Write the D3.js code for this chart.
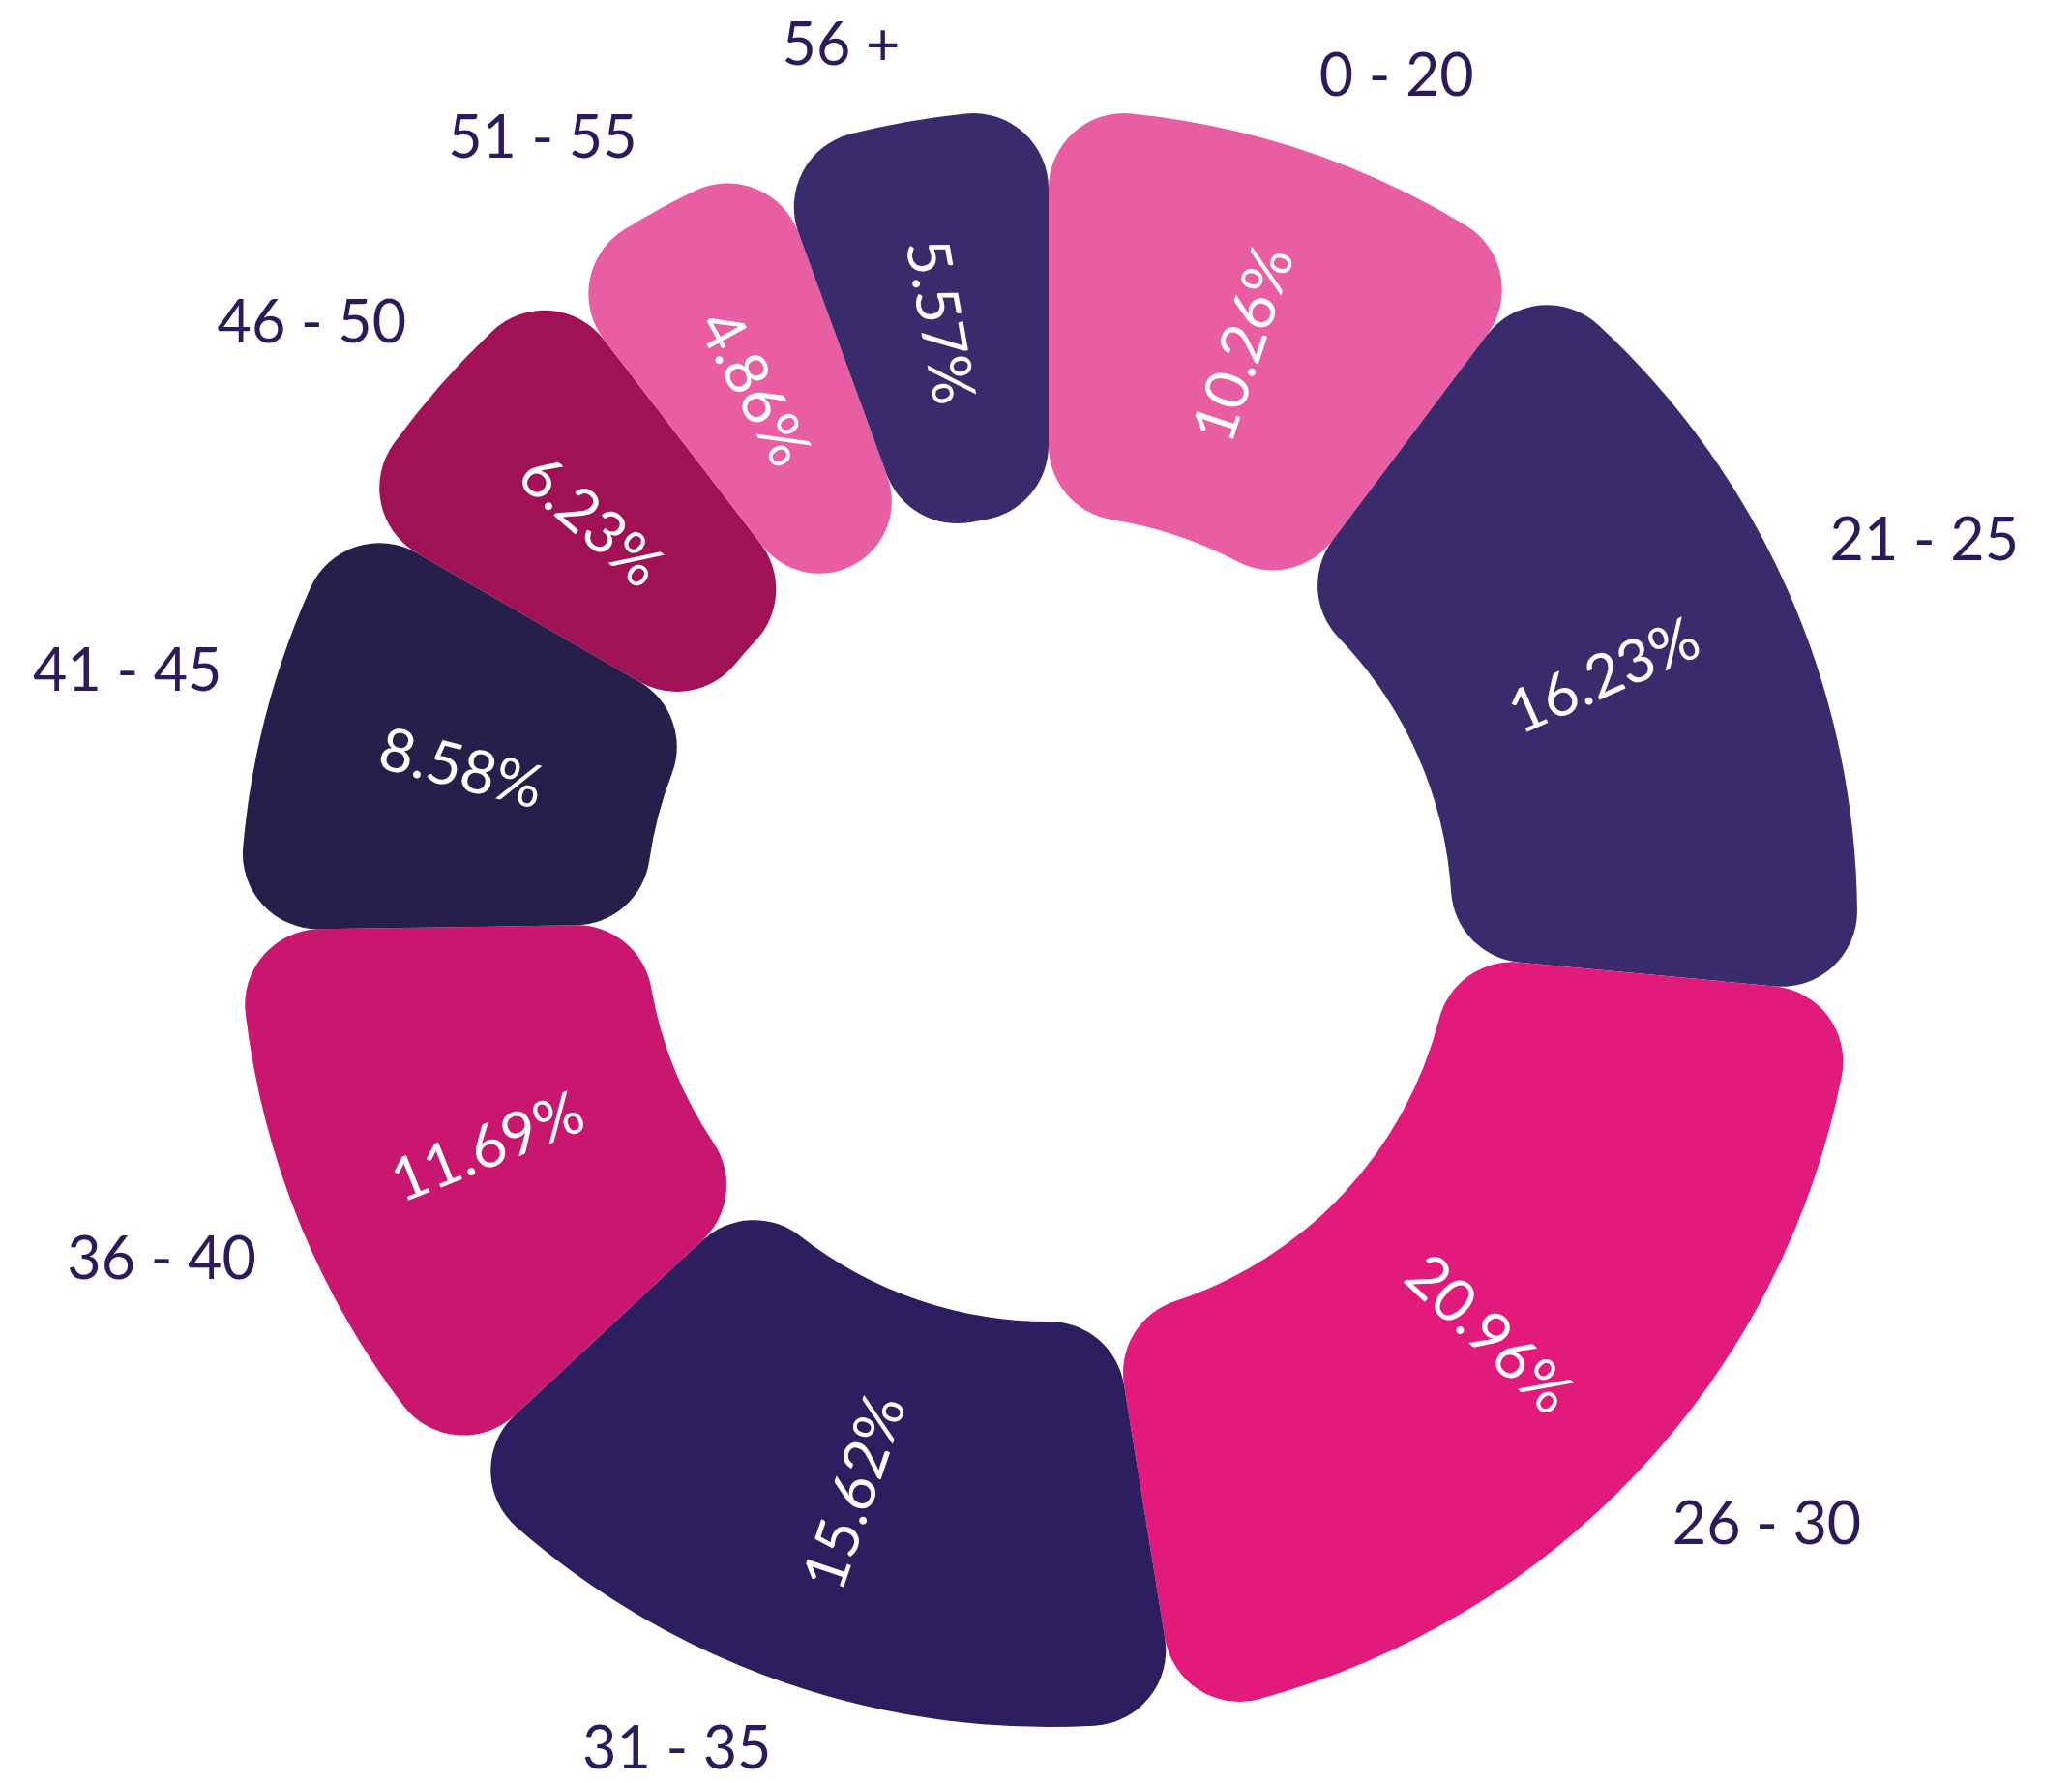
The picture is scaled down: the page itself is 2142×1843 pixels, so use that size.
<!DOCTYPE html>
<html>
<head>
<meta charset="utf-8">
<script src="https://cdn.jsdelivr.net/npm/d3@7"></script>
<style>
  html, body { margin: 0; padding: 0; background: #ffffff; }
  svg { display: block; }
</style>
</head>
<body>
<svg id="chart" width="2142" height="1843"></svg>
<script>
// Age groups and their share of respondents (%)
const categories = ["0 - 20", "21 - 25", "26 - 30", "31 - 35", "36 - 40", "41 - 45", "46 - 50", "51 - 55", "56 +"];
const shares = [10.26, 16.23, 20.96, 15.62, 11.69, 8.58, 6.23, 4.86, 5.57];
const sliceColors = ["#E95DA2", "#3A2B6D", "#E21A7C", "#2D1E5F", "#C9176F", "#271F4B", "#A01156", "#E95DA2", "#3A2B6D"];

const width = 2142, height = 1843;
const cx = 1084, cy = 949;
const innerR = 417, outerR = 836, cornerR = 78;
const labelR = 883, labelShiftUp = 36, labelShiftDown = 20;

const svg = d3.select("#chart");
const g = svg.append("g").attr("transform", `translate(${cx},${cy})`);

const data = categories.map((c, i) => ({ category: c, value: shares[i], color: sliceColors[i] }));

const pie = d3.pie().sort(null).value(d => d.value).startAngle(0).endAngle(2 * Math.PI);
const arc = d3.arc().innerRadius(innerR).outerRadius(outerR).cornerRadius(cornerR);
const arcs = pie(data);

// Slices
g.selectAll("path.slice")
  .data(arcs)
  .join("path")
  .attr("class", "slice")
  .attr("d", arc)
  .attr("fill", d => d.data.color);

const midAngle = d => (d.startAngle + d.endAngle) / 2;
const deg = a => a * 180 / Math.PI;

// Percentage labels, rotated along the radius and kept upright
g.selectAll("text.pct")
  .data(arcs)
  .join("text")
  .attr("class", "pct")
  .attr("transform", d => {
    const [x, y] = arc.centroid(d);
    const a = deg(midAngle(d));
    const rot = a < 180 ? a - 90 : a - 270;
    return `translate(${x},${y}) rotate(${rot})`;
  })
  .attr("text-anchor", "middle")
  .attr("dominant-baseline", "central")
  .attr("font-family", "Lato, 'Open Sans', sans-serif")
  .attr("font-weight", 400)
  .attr("font-size", 62)
  .attr("fill", "#ffffff")
  .text(d => d3.format(".2f")(d.data.value) + "%");

// Category labels around the ring
g.selectAll("text.cat")
  .data(arcs)
  .join("text")
  .attr("class", "cat")
  .attr("x", d => labelR * Math.sin(midAngle(d)))
  .attr("y", d => {
    const c = Math.cos(midAngle(d));
    return -labelR * c + (c > 0 ? -labelShiftUp : labelShiftDown);
  })
  .attr("text-anchor", d => Math.sin(midAngle(d)) >= 0 ? "start" : "end")
  .attr("dominant-baseline", "central")
  .attr("font-family", "Lato, 'Open Sans', sans-serif")
  .attr("font-weight", 400)
  .attr("font-size", 61)
  .attr("fill", "#2C1A5D")
  .text(d => d.data.category);
</script>
</body>
</html>
